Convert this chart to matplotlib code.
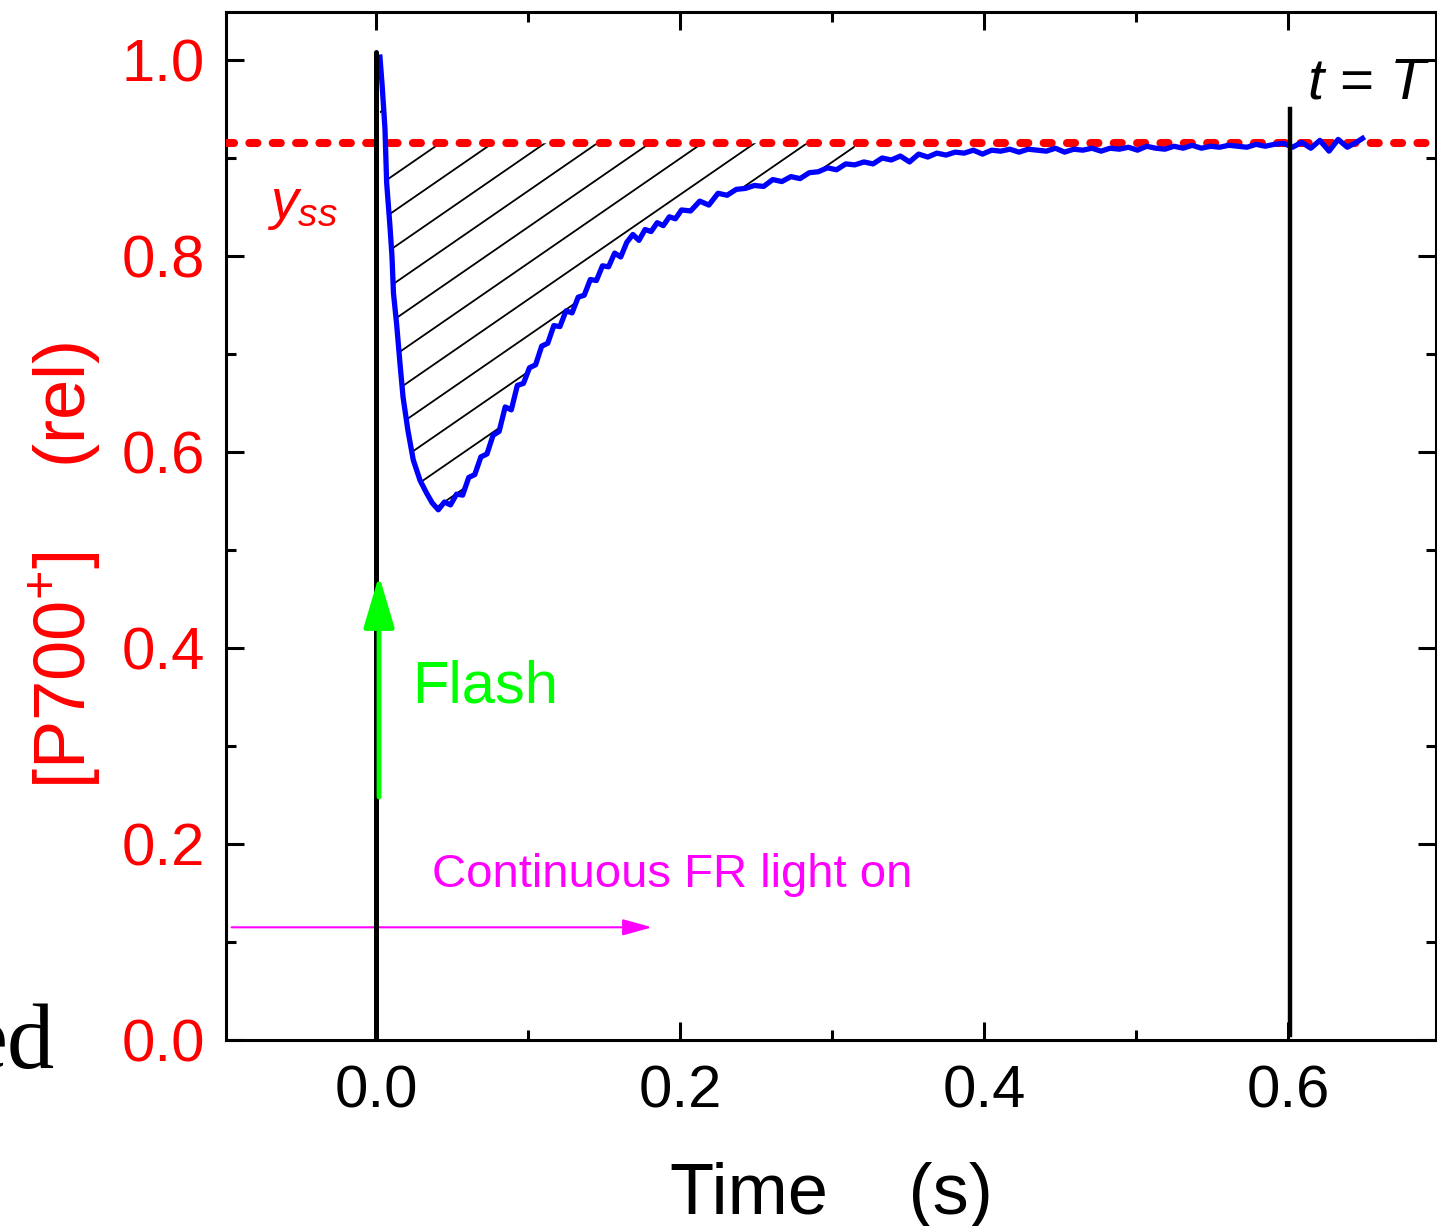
import numpy as np
import matplotlib
matplotlib.use("Agg")
import matplotlib.pyplot as plt
from matplotlib.ticker import MultipleLocator, FormatStrFormatter

plt.rcParams['font.family'] = ['Liberation Sans', 'DejaVu Sans']
plt.rcParams['mathtext.fontset'] = 'custom'
plt.rcParams['mathtext.rm'] = 'Liberation Sans'
plt.rcParams['mathtext.it'] = 'Liberation Sans:italic'

# P700+ kinetics after the flash (time in s, relative signal)
time_s = [
    0.0026, 0.0040, 0.0059, 0.0070, 0.0092, 0.0105, 0.0115, 0.0136, 0.0158, 0.0178,
    0.0210, 0.0245, 0.0290, 0.0333,
    0.037, 0.041, 0.045, 0.049, 0.053, 0.057, 0.061, 0.065, 0.069, 0.073,
    0.077, 0.081, 0.085, 0.089, 0.093, 0.097, 0.101, 0.105, 0.109, 0.113,
    0.117, 0.121, 0.125, 0.129, 0.133, 0.137, 0.141, 0.145, 0.149, 0.153,
    0.157, 0.161, 0.165, 0.169, 0.173, 0.177, 0.181, 0.185, 0.189, 0.193,
    0.197, 0.201,
    0.207, 0.213, 0.219, 0.225, 0.231, 0.237, 0.243, 0.249, 0.255, 0.261,
    0.267, 0.273, 0.279, 0.285, 0.291, 0.297, 0.303, 0.309, 0.315, 0.321,
    0.327, 0.333, 0.339, 0.345, 0.351, 0.357, 0.363, 0.369, 0.375, 0.381,
    0.387, 0.393, 0.399, 0.405, 0.411, 0.417, 0.423, 0.429, 0.435, 0.441,
    0.447, 0.453, 0.459, 0.465, 0.471, 0.477, 0.483, 0.489, 0.495, 0.501,
    0.507, 0.513, 0.519, 0.525, 0.531, 0.537, 0.543, 0.549, 0.555, 0.561,
    0.567, 0.573, 0.579, 0.585, 0.591, 0.597, 0.603, 0.609, 0.615, 0.621,
    0.627, 0.633, 0.639, 0.645, 0.649,
]
p700 = [
    1.003, 0.975, 0.930, 0.875, 0.830, 0.800, 0.762, 0.730, 0.690, 0.656,
    0.622, 0.592, 0.571, 0.558,
    0.548, 0.541, 0.549, 0.546, 0.557, 0.556, 0.574, 0.577, 0.595, 0.598,
    0.617, 0.621, 0.646, 0.643, 0.668, 0.670, 0.686, 0.689, 0.708, 0.711,
    0.729, 0.728, 0.744, 0.742, 0.758, 0.760, 0.776, 0.775, 0.790, 0.789,
    0.803, 0.799, 0.814, 0.822, 0.816, 0.827, 0.825, 0.834, 0.831, 0.840,
    0.838, 0.847,
    0.846, 0.856, 0.852, 0.864, 0.862, 0.868, 0.869, 0.872, 0.871, 0.878,
    0.876, 0.881, 0.879, 0.885, 0.886, 0.890, 0.888, 0.894, 0.893, 0.896,
    0.894, 0.900, 0.898, 0.902, 0.896, 0.904, 0.901, 0.905, 0.903, 0.906,
    0.905, 0.908, 0.904, 0.908, 0.907, 0.909, 0.906, 0.909, 0.908, 0.907,
    0.910, 0.906, 0.909, 0.908, 0.910, 0.907, 0.910, 0.909, 0.911, 0.908,
    0.912, 0.910, 0.909, 0.912, 0.910, 0.913, 0.910, 0.912, 0.911, 0.913,
    0.912, 0.911, 0.914, 0.912, 0.914, 0.915, 0.911, 0.916, 0.910, 0.918,
    0.907, 0.919, 0.911, 0.916, 0.920,
]
y_ss = 0.915          # steady-state level
t_end = 0.601         # t = T marker
hatch_until = 0.32    # hatched area ends here

flash_from, flash_to = 0.248, 0.474
fr_arrow_x = (-0.095, 0.1816)
fr_arrow_y = 0.115

t = np.array(time_s)
y = np.array(p700)

fig = plt.figure(figsize=(14.37, 12.26), dpi=100)
ax = fig.add_axes([226 / 1437, 186 / 1226, 1210 / 1437, 1028 / 1226])
ax.set_xlim(-150 / 1520, 1060 / 1520)
ax.set_ylim(0, 1.049)

# hatched area between trace and steady state
mask = t <= hatch_until
area = ax.fill_between(t[mask], y[mask], y_ss, facecolor='none', edgecolor='none', lw=0)
clip_path = area.get_paths()[0]
slope = 1.07
for x0 in np.arange(0.042 - 4 * 0.0345, 0.40, 0.0345):
    xs = np.array([x0 - 0.6, x0 + 0.2])
    ln, = ax.plot(xs, y_ss + slope * (xs - x0), color='black', lw=1.3, zorder=2)
    ln.set_clip_path(clip_path, ax.transData)

ax.axhline(y_ss, color='#ff0000', lw=5.8, dashes=(1.0, 1.9),
           dash_capstyle='round', zorder=3)

ax.plot(t, y, color='#0000ff', lw=3.8, zorder=4)

ax.plot([0, 0], [0, 1.008], color='black', lw=3.6, solid_capstyle='round', zorder=5)
ax.plot([t_end, t_end], [0.005, 0.95], color='black', lw=3.2, zorder=5)

# flash arrow
ax.annotate('', xy=(0.002, flash_to), xytext=(0.002, flash_from),
            arrowprops=dict(arrowstyle='-|>,head_length=32,head_width=9.5',
                            mutation_scale=1, color='#00ff00', lw=3.5,
                            shrinkA=0, shrinkB=0), zorder=6)
ax.text(0.0237, 0.344, 'Flash', color='#00ff00', fontsize=43, va='baseline')

# continuous far-red light arrow
ax.annotate('', xy=(fr_arrow_x[1], fr_arrow_y), xytext=(fr_arrow_x[0], fr_arrow_y),
            arrowprops=dict(arrowstyle='-|>,head_length=18,head_width=5',
                            mutation_scale=1, color='#ff00ff', lw=1.5,
                            shrinkA=0, shrinkB=0))
ax.text(0.0368, 0.156, 'Continuous FR light on', color='#ff00ff', fontsize=34,
        va='baseline')

ax.text(-0.0715, 0.839, r'$y_{ss}$', color='#ff0000', fontsize=40, va='baseline')
ax.text(0.6125, 0.961, r'$t$ = $T$', color='black', fontsize=42, va='baseline',
        clip_on=False)

for side in ax.spines.values():
    side.set_linewidth(2.2)

ax.xaxis.set_major_locator(MultipleLocator(0.2))
ax.xaxis.set_minor_locator(MultipleLocator(0.1))
ax.yaxis.set_major_locator(MultipleLocator(0.2))
ax.yaxis.set_minor_locator(MultipleLocator(0.1))
ax.tick_params(which='both', direction='in', top=True, right=True, width=2.2)
ax.tick_params(which='major', length=13)
ax.tick_params(which='minor', length=7)
ax.tick_params(axis='y', labelsize=43, labelcolor='#ff0000', pad=15)
ax.tick_params(axis='x', labelsize=43, labelcolor='black', pad=18)
ax.xaxis.set_major_formatter(FormatStrFormatter('%.1f'))
ax.yaxis.set_major_formatter(FormatStrFormatter('%.1f'))

ax.set_xlabel('Time    (s)', fontsize=52, labelpad=30)
ax.set_ylabel(r'[P700$^{+}$]    (rel)', fontsize=52, color='#ff0000')
ax.yaxis.set_label_coords(-0.133, 0.462)
ax.yaxis.label.set_va('center')

fig.text(55 / 1437, 1 - 1068 / 1226, 'ed', ha='right', va='baseline',
         fontsize=68, family='Liberation Serif')

fig.savefig('out.png', dpi=100)
